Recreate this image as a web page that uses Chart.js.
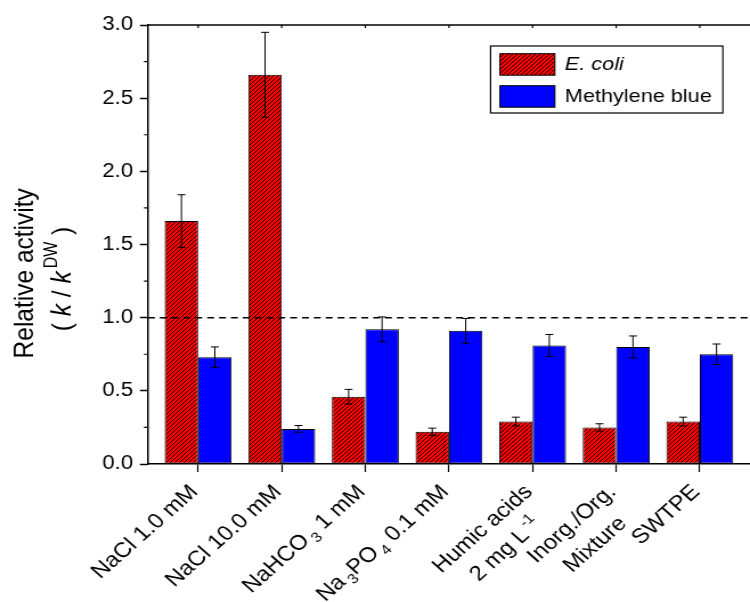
<!DOCTYPE html>
<html>
<head>
<meta charset="utf-8">
<script src="https://cdn.jsdelivr.net/npm/chart.js@4.4.1/dist/chart.umd.min.js"></script>
<style>
html, body { margin: 0; padding: 0; overflow: hidden; background: #fff; }
canvas { display: block; }
</style>
</head>
<body>
<canvas id="chart" width="658" height="602" style="width:750px;height:602px"></canvas>
<script>
// categories, _{..} = subscript, ^{..} = superscript
const categories = [
    ['NaCl 1.0 mM'],
    ['NaCl 10.0 mM'],
    ['NaHCO_{3} 1 mM'],
    ['Na_{3}PO_{4} 0.1 mM'],
    ['Humic acids', '2 mg L^{-1}'],
    ['Inorg./Org.', 'Mixture'],
    ['SWTPE']
];
const ecoli = [1.66, 2.66, 0.46, 0.22, 0.29, 0.25, 0.29];
const ecoliErr = [0.18, 0.29, 0.05, 0.025, 0.03, 0.025, 0.03];
const mblue = [0.73, 0.24, 0.92, 0.91, 0.81, 0.80, 0.75];
const mblueErr = [0.07, 0.023, 0.085, 0.085, 0.075, 0.075, 0.07];
const seriesNames = ['E. coli', 'Methylene blue'];
const yTicks = [0, 0.5, 1.0, 1.5, 2.0, 2.5, 3.0];
const refLine = 1.0;

const FONT = "'Liberation Sans', Arial, sans-serif";


function hatch(color)
{
    const t = document.createElement('canvas');
    t.width = 4;
    t.height = 4;
    const c = t.getContext('2d');
    c.fillStyle = color;
    c.fillRect(0, 0, 4, 4);
    c.strokeStyle = '#000';
    c.lineWidth = 0.9;
    c.beginPath();
    c.moveTo(0, 4); c.lineTo(4, 0);
    c.moveTo(-1, 1); c.lineTo(1, -1);
    c.moveTo(3, 5); c.lineTo(5, 3);
    c.stroke();
    return c.createPattern(t, 'repeat');
}


function parseRich(str)
{
    const parts = [];
    const re = /([_^])\{([^}]*)\}/g;
    let last = 0, m;
    while ((m = re.exec(str)) !== null) {
        if (m.index > last) parts.push({text: str.slice(last, m.index), mode: ''});
        parts.push({text: m[2], mode: m[1]});
        last = re.lastIndex;
    }
    if (last < str.length) parts.push({text: str.slice(last), mode: ''});
    return parts;
}

function partFont(p, size)
{
    const s = p.mode ? Math.round(size * 0.65) : size;
    return (p.italic ? 'italic ' : '') + s + 'px ' + FONT;
}

function richWidth(ctx, parts, size)
{
    let w = 0;
    parts.forEach(p => {
        ctx.font = partFont(p, size);
        w += ctx.measureText(p.text).width + (p.mode ? 3 : 0);
    });
    return w;
}

// draws parts from x along a baseline y
function drawRich(ctx, parts, x, y, size)
{
    ctx.textAlign = 'left';
    ctx.textBaseline = 'alphabetic';
    parts.forEach(p => {
        ctx.font = partFont(p, size);
        let dy = 0;
        if (p.mode === '_') dy = size * 0.25;
        if (p.mode === '^') dy = -size * 0.45;
        if (p.mode) x += 3;
        ctx.fillText(p.text, x, y + dy);
        x += ctx.measureText(p.text).width;
    });
}


const extras = {
    id: 'extras',
    afterDatasetsDraw(chart) {
        const ctx = chart.ctx;
        const xs = chart.scales.x;
        const ys = chart.scales.y;
        const area = chart.chartArea;

        // error bars
        [ecoliErr, mblueErr].forEach((errs, d) => {
            const vals = d === 0 ? ecoli : mblue;
            const meta = chart.getDatasetMeta(d);
            ctx.save();
            ctx.strokeStyle = '#000';
            ctx.lineWidth = 1;
            meta.data.forEach((bar, i) => {
                const top = ys.getPixelForValue(vals[i] + errs[i]);
                const bot = ys.getPixelForValue(vals[i] - errs[i]);
                ctx.beginPath();
                ctx.moveTo(bar.x, top); ctx.lineTo(bar.x, bot);
                ctx.moveTo(bar.x - 3.5, top); ctx.lineTo(bar.x + 3.5, top);
                ctx.moveTo(bar.x - 3.5, bot); ctx.lineTo(bar.x + 3.5, bot);
                ctx.stroke();
            });
            ctx.restore();
        });

        // dashed reference line
        ctx.save();
        ctx.strokeStyle = '#000';
        ctx.lineWidth = 1.5;
        ctx.setLineDash([6, 4.4]);
        const ry = ys.getPixelForValue(refLine);
        ctx.beginPath();
        ctx.moveTo(area.left, ry);
        ctx.lineTo(area.right, ry);
        ctx.stroke();
        ctx.restore();

        // top frame, minor ticks
        ctx.save();
        ctx.strokeStyle = '#000';
        ctx.lineWidth = 1.5;
        ctx.beginPath();
        ctx.moveTo(area.left, area.top);
        ctx.lineTo(area.right, area.top);
        ctx.stroke();
        ctx.lineWidth = 1.2;
        ctx.beginPath();
        categories.forEach((c, i) => {
            const x = xs.getPixelForValue(i);
            ctx.moveTo(x, area.top);
            ctx.lineTo(x, area.top + 3);
        });
        for (let v = 0.25; v < 3; v += 0.5) {
            const y = ys.getPixelForValue(v);
            ctx.moveTo(area.left - 3.5, y);
            ctx.lineTo(area.left, y);
        }
        ctx.stroke();
        ctx.restore();
    },
    afterDraw(chart) {
        const ctx = chart.ctx;
        const xs = chart.scales.x;

        // legend
        ctx.save();
        ctx.strokeStyle = '#000';
        ctx.lineWidth = 1.2;
        ctx.strokeRect(430.4, 46, 203.8, 67);
        chart.data.datasets.forEach((ds, d) => {
            const top = d === 0 ? 53.7 : 85.7;
            ctx.fillStyle = ds.backgroundColor;
            ctx.fillRect(438.6, top, 48.2, 21.5);
            ctx.lineWidth = 1;
            ctx.strokeRect(438.6, top, 48.2, 21.5);
            ctx.fillStyle = '#000';
            ctx.font = (d === 0 ? 'italic ' : '') + '19px ' + FONT;
            ctx.textAlign = 'left';
            ctx.textBaseline = 'middle';
            ctx.fillText(seriesNames[d], 495.6, top + 11.5);
        });
        ctx.restore();

        // rotated category labels
        ctx.save();
        ctx.fillStyle = '#000';
        categories.forEach((lines, i) => {
            const parsed = lines.map(parseRich);
            const widths = parsed.map(p => richWidth(ctx, p, 21));
            const blockW = Math.max(...widths);
            ctx.save();
            ctx.translate(xs.getPixelForValue(i) - 4.5, 487.5);
            ctx.rotate(-Math.PI / 4);
            parsed.forEach((p, j) => {
                drawRich(ctx, p, -blockW / 2 - widths[j] / 2, j * 29 + 7.5, 21);
            });
            ctx.restore();
        });
        ctx.restore();

        // y axis title
        ctx.save();
        ctx.fillStyle = '#000';
        ctx.translate(28.9, 273.3);
        ctx.rotate(-Math.PI / 2);
        ctx.font = '24.5px ' + FONT;
        ctx.textAlign = 'center';
        ctx.textBaseline = 'alphabetic';
        ctx.fillText('Relative activity', 0, 0);
        ctx.restore();

        const unit = [
            {text: '( ', mode: ''},
            {text: 'k', mode: '', italic: true},
            {text: ' / ', mode: ''},
            {text: 'k', mode: '', italic: true},
            {text: 'DW', mode: '^'},
            {text: ' )', mode: ''}
        ];
        ctx.save();
        ctx.fillStyle = '#000';
        ctx.translate(61.5, 279);
        ctx.rotate(-Math.PI / 2);
        const w = richWidth(ctx, unit, 24.5);
        drawRich(ctx, unit, -w / 2, 0, 24.5);
        ctx.restore();
    }
};


function createChart()
{
    const config =
    {
        type: 'bar',
        data:
        {
            datasets:
            [{
                label: seriesNames[0],
                data: ecoli.map((v, i) => ({x: i, y: v})),
                backgroundColor: hatch('rgb(255, 0, 0)'),
                borderColor: '#000',
                borderWidth: 1,
                borderSkipped: false,
                categoryPercentage: 0.8,
                barPercentage: 1.0
            },
            {
                label: seriesNames[1],
                data: mblue.map((v, i) => ({x: i, y: v})),
                backgroundColor: 'rgb(0, 0, 255)',
                borderColor: '#000',
                borderWidth: 1,
                borderSkipped: false,
                categoryPercentage: 0.8,
                barPercentage: 1.0
            }]
        },
        options:
        {
            responsive: false,
            animation: false,
            devicePixelRatio: 1,
            // plot runs past the right edge of the picture, as in the original
            layout: { padding: { left: 0, right: -8.7, top: 25, bottom: 130 } },
            plugins:
            {
                legend: { display: false },
                tooltip: { enabled: false }
            },
            scales:
            {
                x:
                {
                    type: 'linear',
                    min: -0.6,
                    max: 6.6,
                    offset: false,
                    afterBuildTicks: s => { s.ticks = categories.map((c, i) => ({value: i})); },
                    afterFit: s => { s.height = 8; },
                    ticks: { display: false },
                    grid: { offset: false, drawOnChartArea: false, tickLength: 8, tickColor: '#000', tickWidth: 1.2 },
                    border: { color: '#000', width: 1.5 }
                },
                y:
                {
                    min: 0,
                    max: 3,
                    afterBuildTicks: s => { s.ticks = yTicks.map(v => ({value: v})); },
                    afterFit: s => { s.width = 129.8; },
                    ticks:
                    {
                        color: '#000',
                        padding: 6,
                        font: { size: 19.5, family: FONT },
                        callback: v => v.toFixed(1)
                    },
                    grid: { drawOnChartArea: false, tickLength: 7, tickColor: '#000', tickWidth: 1.5 },
                    border: { color: '#000', width: 1.5 }
                }
            }
        },
        plugins: [extras]
    };
    new Chart(document.getElementById('chart'), config);
}

createChart();
</script>
</body>
</html>
